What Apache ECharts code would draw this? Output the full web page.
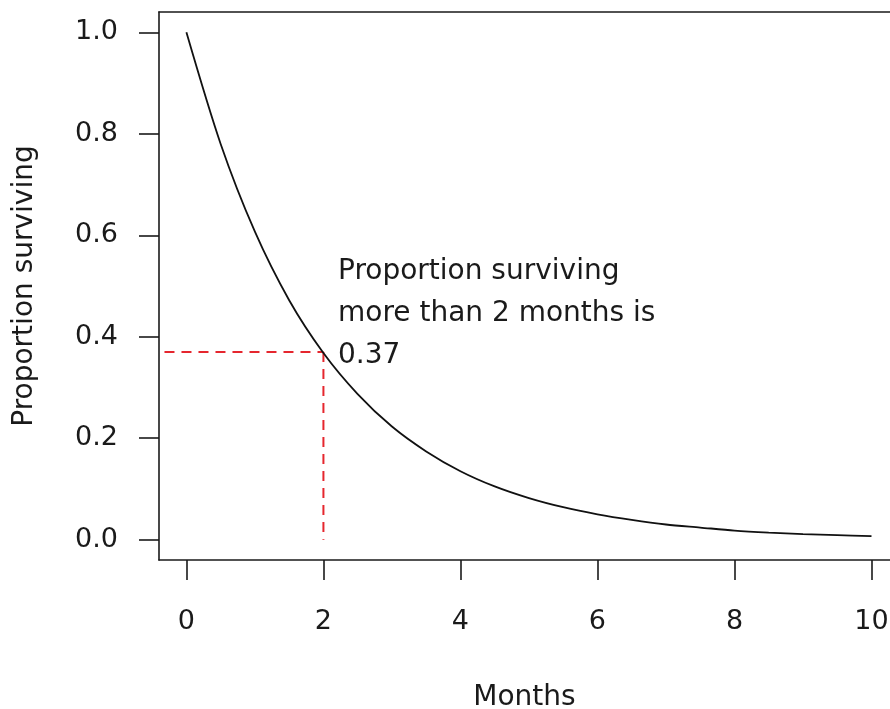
<!DOCTYPE html>
<html>
<head>
<meta charset="utf-8">
<script src="https://cdn.jsdelivr.net/npm/echarts@6/dist/echarts.min.js"></script>
<style>
html,body{margin:0;padding:0;background:#fff;overflow:hidden;}
#chart{width:890px;height:709px;}
</style>
</head>
<body>
<div id="chart"></div>
<script>
// Data
var months = [0, 0.5, 1, 1.5, 2, 2.5, 3, 3.5, 4, 4.5, 5, 5.5, 6, 6.5, 7, 7.5, 8, 8.5, 9, 9.5, 10];
var surviving = [1.0, 0.78, 0.607, 0.472, 0.368, 0.287, 0.223, 0.174, 0.135, 0.105, 0.082, 0.064, 0.050, 0.039, 0.030, 0.024, 0.018, 0.014, 0.011, 0.009, 0.007];
var refHorizontal = [[-0.32, 0.37], [2, 0.37]];
var refVertical = [[2, 0.37], [2, 0]];
var xTicks = [0, 2, 4, 6, 8, 10];
var yTicks = [0, 0.2, 0.4, 0.6, 0.8, 1.0];
var annotationLines = ['Proportion surviving', 'more than 2 months is', '0.37'];

var FONT = '"DejaVu Sans", "Liberation Sans", Arial, sans-serif';
var FS = 27;
var FS_TEXT = 28;
var INK = '#1a1a1a';
var chart = echarts.init(document.getElementById('chart'), null, {renderer: 'canvas'});

var curve = months.map(function (m, i) { return [m, surviving[i]]; });

chart.setOption({
  backgroundColor: '#ffffff',
  animation: false,
  grid: {left: 159, top: 12, right: 0, bottom: 149, show: false, containLabel: false, outerBoundsMode: 'none'},
  xAxis: [
    {
      type: 'value', min: -0.4, max: 10.27, position: 'bottom',
      name: 'Months', nameLocation: 'middle', nameGap: 124,
      nameTextStyle: {fontFamily: FONT, fontSize: FS_TEXT, color: INK},
      axisLine: {show: true, onZero: false, lineStyle: {color: INK, width: 1.6}},
      splitLine: {show: false},
      axisTick: {show: true, length: 20, customValues: xTicks, lineStyle: {color: INK, width: 1.6}},
      axisLabel: {show: true, customValues: xTicks, margin: 48, fontFamily: FONT, fontSize: FS, color: INK}
    },
    {
      type: 'value', min: -0.4, max: 10.27, position: 'top',
      axisLine: {show: true, onZero: false, lineStyle: {color: INK, width: 1.6}},
      splitLine: {show: false}, axisTick: {show: false}, axisLabel: {show: false}
    }
  ],
  yAxis: {
    type: 'value', min: -0.04, max: 1.04,
    name: 'Proportion surviving', nameLocation: 'middle', nameGap: 120,
    nameTextStyle: {fontFamily: FONT, fontSize: FS_TEXT, color: INK},
    axisLine: {show: true, onZero: false, lineStyle: {color: INK, width: 1.6}},
    splitLine: {show: false},
    axisTick: {show: true, length: 20, customValues: yTicks, lineStyle: {color: INK, width: 1.6}},
    axisLabel: {show: true, customValues: yTicks, margin: 41, fontFamily: FONT, fontSize: FS, color: INK,
      formatter: function (v) { return v.toFixed(1); }}
  },
  series: [
    {
      type: 'line', data: curve, smooth: 0.3, symbol: 'none',
      lineStyle: {color: '#111111', width: 1.8}, z: 3
    },
    {
      type: 'line', data: refHorizontal, symbol: 'none',
      lineStyle: {color: '#e5262e', width: 2, type: [10, 7]}, z: 2
    },
    {
      type: 'line', data: refVertical, symbol: 'none',
      lineStyle: {color: '#e5262e', width: 2, type: [10, 7]}, z: 2
    }
  ],
  graphic: [
    {
      type: 'text', left: 338, top: 251,
      style: {
        text: annotationLines.join('\n'),
        font: FS_TEXT + 'px ' + FONT, fill: INK, lineHeight: 42
      }
    }
  ]
});
</script>
</body>
</html>
